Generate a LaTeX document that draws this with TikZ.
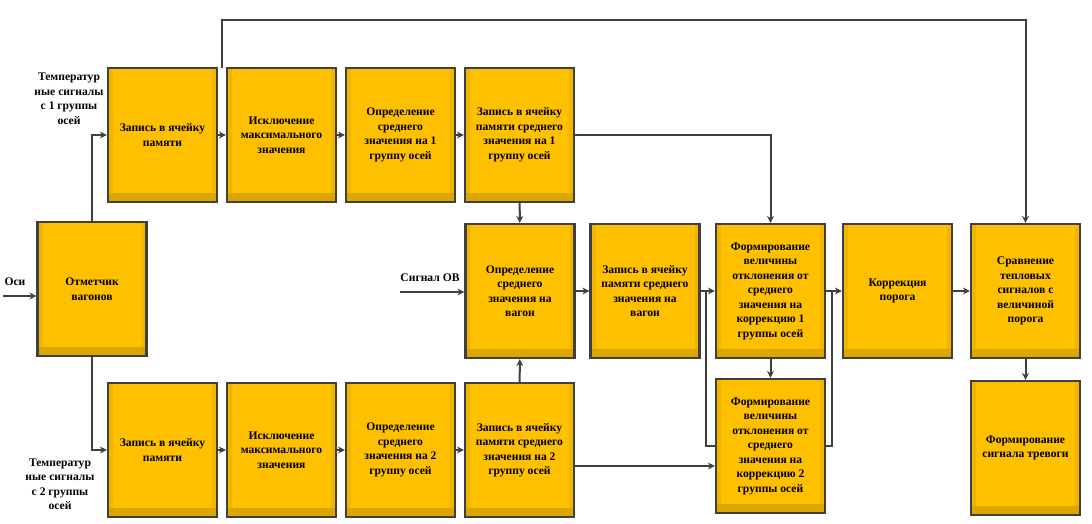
\documentclass[tikz,border=0pt]{standalone}
\usepackage{fontspec}
\setmainfont{Liberation Serif}
\usetikzlibrary{arrows.meta, positioning}
\definecolor{boxlight}{HTML}{FFC000}
\definecolor{boxside}{HTML}{F2B600}
\definecolor{boxdark}{HTML}{DCA600}
\definecolor{edgegrey}{HTML}{404040}
\newcommand{\boxfont}{\fontsize{11.6}{14.5}\selectfont\bfseries}

\begin{document}
\begin{tikzpicture}[x=1pt, y=-1pt, node distance=119pt]
% Define styles
\tikzstyle{block} = [rectangle, minimum width=109pt, minimum height=134pt, text centered, align=center, draw=edgegrey, line width=2.2pt, fill=boxside, font=\boxfont, path picture={
  \fill[boxdark] ([yshift=9pt]path picture bounding box.south west) rectangle (path picture bounding box.south east);
  \fill[boxlight] ([xshift=5pt]path picture bounding box.north west) rectangle ([xshift=-5pt,yshift=9pt]path picture bounding box.south east);}]
\tikzstyle{caption} = [align=center, font=\boxfont, inner sep=0pt]
\tikzstyle{link} = [draw=edgegrey, line width=2pt]
\tikzstyle{flow} = [link, -{Stealth[length=7pt,width=7pt]}]

\useasboundingbox (0,0) rectangle (1092,523);

% Nodes
\node (mark) [block] at (92,289) {Отметчик\\вагонов};

\node (mem1) [block] at (162.5,135) {Запись в ячейку\\памяти};
\node (excl1) [block, right of=mem1] {Исключение\\максимального\\значения};
\node (avg1) [block, right of=excl1] {Определение\\среднего\\значения на 1\\группу осей};
\node (avg1buf) [block, right of=avg1] {Запись в ячейку\\памяти среднего\\значения на 1\\группу осей};

\node (mem2) [block] at (162.5,450) {Запись в ячейку\\памяти};
\node (excl2) [block, right of=mem2] {Исключение\\максимального\\значения};
\node (avg2) [block, right of=excl2] {Определение\\среднего\\значения на 2\\группу осей};
\node (avg2buf) [block, right of=avg2] {Запись в ячейку\\памяти среднего\\значения на 2\\группу осей};

\node (wagavg) [block] at (520,291) {Определение\\среднего\\значения на\\вагон};
\node (wagbuf) [block] at (645,291) {Запись в ячейку\\памяти среднего\\значения на\\вагон};
\node (dev1) [block] at (770.5,291) {Формирование\\величнны\\отклонения от\\среднего\\значения на\\коррекцию 1\\группы осей};
\node (dev2) [block] at (770.5,446) {Формирование\\величины\\отклонения от\\среднего\\значения на\\коррекцию 2\\группы осей};
\node (corr) [block] at (897.5,291) {Коррекция\\порога};
\node (cmp) [block] at (1025.5,291) {Сравнение\\тепловых\\сигналов с\\величиной\\порога};
\node (alarm) [block] at (1025.5,448) {Формирование\\сигнала тревоги};

% Labels
\node (osilabel) [caption] at (15,282) {Оси};
\node (ovlabel) [caption] at (430,278) {Сигнал ОВ};
\node (temp1) [caption] at (69,99) {Температур\\ные сигналы\\с 1 группы\\осей};
\node (temp2) [caption] at (60,484) {Температур\\ные сигналы\\с 2 группы\\осей};

% Free ends
\coordinate (osi) at (3,296);
\coordinate (ov) at (400,292);
\coordinate (loopstart) at (222,68);
\coordinate (split1) at (706,291);
\coordinate (split2) at (832,291);
\coordinate (b4out) at ([yshift=-16pt]avg2buf.east);

% Arrows
\draw[flow] (osi) -- (osi -| mark.west);
\draw[flow] (mark.north) |- (mem1.west);
\draw[flow] (mark.south) |- (mem2.west);
\draw[flow] (mem1) -- (excl1);
\draw[flow] (excl1) -- (avg1);
\draw[flow] (avg1) -- (avg1buf);
\draw[flow] (mem2) -- (excl2);
\draw[flow] (excl2) -- (avg2);
\draw[flow] (avg2) -- (avg2buf);
\draw[flow] (avg1buf) -- (wagavg);
\draw[flow] (avg2buf) -- (wagavg);
\draw[flow] (ov) -- (ov -| wagavg.west);
\draw[flow] (wagavg) -- (wagbuf);
\draw[flow] (wagbuf) -- (dev1);
\draw[link] (split1) |- (dev2.west);
\draw[flow] (avg1buf.east) -| (dev1.north);
\draw[flow] (b4out) -- (b4out -| dev2.west);
\draw[flow] (dev1) -- (dev2);
\draw[flow] (dev1) -- (corr);
\draw[link] (dev2.east) -| (split2);
\draw[flow] (corr) -- (cmp);
\draw[flow] (cmp) -- (alarm);
\draw[flow] (loopstart) -- ++(0,-48) -| (cmp.north);

\end{tikzpicture}
\end{document}
